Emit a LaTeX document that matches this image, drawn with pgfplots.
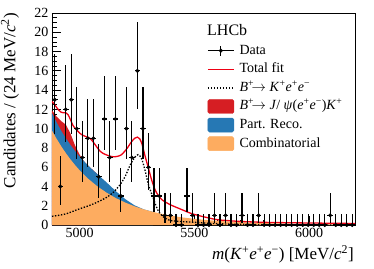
\documentclass[border=0pt]{standalone}
\usepackage{pgfplots}
\pgfplotsset{compat=1.18}
\usepackage{pgfplotstable}
\usepackage{fontspec}
\setmainfont{Liberation Serif}

\definecolor{jpsired}{RGB}{214,30,35}
\definecolor{prblue}{RGB}{38,120,180}
\definecolor{comborange}{RGB}{253,172,96}
\definecolor{fitred}{RGB}{238,0,20}

\protected\def\sup#1{\textsuperscript{#1}}
\protected\def\sigleg{\textit{B}\sup{+}$\!\to$ \textit{K}\sup{+}\textit{e}\sup{+}\textit{e}\sup{−}}
\protected\def\jpsileg{\textit{B}\sup{+}$\!\to$ \textit{J}/ \textit{ψ}(\textit{e}\sup{+}\textit{e}\sup{−})\textit{K}\sup{+}}
\protected\def\xlab{\textit{m}(\textit{K}\sup{+}\textit{e}\sup{+}\textit{e}\sup{−}) [MeV/\textit{c}\sup{2}]}
\protected\def\ylab{Candidates / (24 MeV/\textit{c}\sup{2})}

\pgfplotstableread{
x y eyp eym
4892 13 4.70 3.559
4916 4 3.163 1.914
4940 12 4.56 3.415
4964 13 4.70 3.559
4988 10 4.27 3.109
5012 7 3.77 2.581
5036 9 4.11 2.943
5060 9 4.11 2.943
5084 5 3.382 2.16
5108 11 4.42 3.266
5132 7 3.77 2.581
5156 11 4.42 3.266
5180 3 2.918 1.633
5204 10 4.27 3.109
5228 7 3.77 2.581
5252 16 5.08 3.96
5276 10 4.27 3.109
5300 6 3.584 2.38
5324 3 2.918 1.633
5348 3 2.918 1.633
5372 1 2.3 0.827
5396 1 2.3 0.827
5420 0 1.148 0
5444 0 1.148 0
5468 3 2.918 1.633
5492 1 2.3 0.827
5516 0 1.148 0
5540 0 1.148 0
5564 0 1.148 0
5588 1 2.3 0.827
5612 0 1.148 0
5636 1 2.3 0.827
5660 0 1.148 0
5684 0 1.148 0
5708 1 2.3 0.827
5732 0 1.148 0
5756 0 1.148 0
5780 1 2.3 0.827
5804 0 1.148 0
5828 0 1.148 0
5852 0 1.148 0
5876 0 1.148 0
5900 0 1.148 0
5924 0 1.148 0
5948 0 1.148 0
5972 0 1.148 0
5996 0 1.148 0
6020 0 1.148 0
6044 0 1.148 0
6068 0 1.148 0
6092 1 2.3 0.827
6116 0 1.148 0
6140 0 1.148 0
6164 0 1.148 0
6188 0 1.148 0
}\datatable

\begin{document}
\begin{tikzpicture}
\useasboundingbox (-52pt,-43pt) rectangle (322pt,225pt);
\begin{axis}[
  at={(0pt,0pt)}, anchor=south west,
  scale only axis, width=303pt, height=212pt,
  xmin=4880, xmax=6200, ymin=0, ymax=22,
  xtick={5000,5500,6000}, minor x tick num=4,
  ytick={0,2,...,22}, minor y tick num=3,
  tick align=inside, xtick pos=bottom, ytick pos=left,
  major tick length=9pt, minor tick length=5pt,
  tick style={black, line width=0.7pt},
  axis line style={line width=0.8pt},
  /pgf/number format/assume math mode=true,
  /pgf/number format/1000 sep={},
  ticklabel style={font=\fontsize{14}{16}\selectfont},
  xlabel={\xlab},
  ylabel={\ylab},
  every axis x label/.style={at={(rel axis cs:1,0)}, anchor=north east, yshift=-20pt, xshift=-1pt, inner sep=0pt, font=\fontsize{17}{20}\selectfont},
  every axis y label/.style={at={(rel axis cs:0,1)}, xshift=-42pt, rotate=90, anchor=east, inner sep=0pt, font=\fontsize{17}{20}\selectfont},
  legend cell align=left,
  legend style={at={(rel axis cs:0.5116,0.861)}, anchor=north west, draw=none, fill=none, inner sep=0pt,
    font=\fontsize{14}{16}\selectfont, row sep=2.6pt, /tikz/column sep=3.5pt,
    nodes={inner sep=1.5pt, text height=10pt, text depth=3pt}},
]
\addlegendimage{legend image code/.code={\draw[black,line width=1.2pt] (0pt,0pt)--(26pt,0pt); \draw[black,line width=1.2pt] (13pt,-5pt)--(13pt,5pt); \fill[black] (13pt,0pt) circle (1.8pt);}}
\addlegendentry{Data}
\addlegendimage{legend image code/.code={\draw[fitred,line width=1.3pt] (0pt,0pt)--(26pt,0pt);}}
\addlegendentry{Total fit}
\addlegendimage{legend image code/.code={\draw[black,line width=1.3pt,dash pattern=on 1.4pt off 1.6pt] (0pt,0pt)--(26pt,0pt);}}
\addlegendentry{\sigleg}
\addlegendimage{legend image code/.code={\fill[jpsired,rounded corners=1.5pt] (0pt,-7pt) rectangle (26pt,7pt);}}
\addlegendentry{\jpsileg}
\addlegendimage{legend image code/.code={\fill[prblue,rounded corners=1.5pt] (0pt,-7pt) rectangle (26pt,7pt);}}
\addlegendentry{Part. Reco.}
\addlegendimage{legend image code/.code={\fill[comborange,rounded corners=1.5pt] (0pt,-7pt) rectangle (26pt,7pt);}}
\addlegendentry{Combinatorial}

% J/psi leakage (stacked top)
\addplot[fill=jpsired, draw=none, forget plot] coordinates {
(4880,11.90) (4900,11.25) (4920,10.78) (4940,10.42) (4960,9.52) (4980,8.28) (5000,7.31) (5020,6.59) (5040,6.10) (5080,5.22)
} \closedcycle;
% Partially reconstructed (stacked top)
\addplot[fill=prblue, draw=none, forget plot] coordinates {
(4880,11.60) (4900,10.65) (4920,9.78) (4940,9.02) (4960,8.32) (4980,7.68) (5000,7.11) (5040,6.10) (5080,5.22) (5120,4.37) (5160,3.47) (5200,2.67) (5240,2.04) (5280,1.62) (5320,1.36)
} \closedcycle;
% Combinatorial
\addplot[fill=comborange, draw=none, forget plot] coordinates {
(4880,9.80) (4900,8.95) (4920,8.18) (4940,7.47) (4960,6.82) (4980,6.23) (5000,5.69) (5040,4.75) (5080,3.97) (5120,3.32) (5160,2.77) (5200,2.32) (5240,1.94) (5280,1.62) (5320,1.36) (5360,1.15) (5400,0.96) (5450,0.78) (5500,0.64) (5550,0.52) (5600,0.43) (5700,0.29) (5800,0.20) (5900,0.14) (6000,0.10) (6100,0.07) (6200,0.05)
} \closedcycle;
% Signal
\addplot[black, line width=1.3pt, dash pattern=on 1.4pt off 1.6pt, smooth, forget plot] coordinates {
(4880,0.90) (4900,0.97) (4920,1.05) (4940,1.15) (4960,1.32) (4980,1.50) (5000,1.68) (5040,2.00) (5080,2.40) (5120,2.90) (5150,3.45) (5180,4.30) (5200,5.10) (5220,6.20) (5240,7.00) (5255,7.30) (5270,6.90) (5285,5.70) (5300,4.20) (5320,2.85) (5340,1.60) (5360,0.95) (5380,0.62) (5400,0.45) (5450,0.35) (5500,0.28) (5550,0.20) (5600,0.14) (5700,0.07) (5800,0.04) (6000,0.01) (6200,0.0)
};
% Total fit
\addplot[fitred, line width=1.3pt, smooth, forget plot] coordinates {
(4880,12.8) (4890,12.55) (4900,12.2) (4910,11.9) (4920,11.7) (4930,11.65) (4940,11.65) (4950,11.45) (4960,10.95) (4970,10.4) (4980,10.05) (4990,9.8) (5000,9.55) (5015,9.3) (5030,9.15) (5045,9.0) (5060,8.6) (5075,8.1) (5090,7.65) (5105,7.4) (5120,7.25) (5140,7.1) (5160,7.1) (5180,7.25) (5195,7.6) (5210,8.05) (5225,8.6) (5240,9.0) (5252,9.12) (5262,8.95) (5272,8.4) (5285,7.2) (5300,5.9) (5315,4.6) (5330,3.6) (5345,3.0) (5360,2.6) (5380,2.3) (5400,2.05) (5425,1.8) (5450,1.55) (5475,1.3) (5500,1.1) (5550,0.8) (5600,0.55) (5650,0.45) (5700,0.37) (5800,0.28) (5900,0.24) (6000,0.21) (6100,0.18) (6200,0.16)
};
% Data
\addplot[black, only marks, mark=*, mark size=1.8pt, forget plot,
  error bars/.cd, x dir=both, x fixed=12, y dir=both, y explicit,
  error mark=none, error bar style={line width=1.2pt, black}]
  table[x=x, y=y, y error plus=eyp, y error minus=eym] {\datatable};
\node[anchor=west, inner sep=0pt, font=\fontsize{16}{18}\selectfont] at (rel axis cs:0.5116,0.92) {LHCb};
\end{axis}
\end{tikzpicture}
\end{document}
